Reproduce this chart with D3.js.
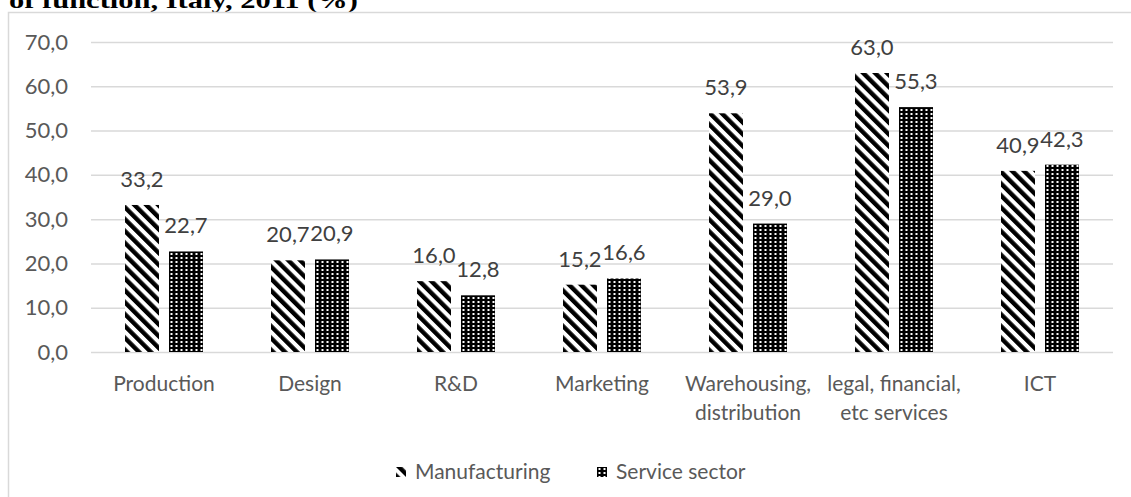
<!DOCTYPE html>
<html>
<head>
<meta charset="utf-8">
<script src="https://cdn.jsdelivr.net/npm/d3@7"></script>
<style>
  html, body { margin: 0; padding: 0; background: #fff; }
  svg { display: block; }
  text { font-family: Lato, "Open Sans", sans-serif; }
</style>
</head>
<body>
<svg id="chart" width="1131" height="497"></svg>
<script>
// Share of firms by business function, Italy, 2011 (%)
const categories = [
  ["Production"],
  ["Design"],
  ["R&D"],
  ["Marketing"],
  ["Warehousing,", "distribution"],
  ["legal, financial,", "etc services"],
  ["ICT"]
];
const seriesNames = ["Manufacturing", "Service sector"];
const manufacturing = [33.2, 20.7, 16.0, 15.2, 53.9, 63.0, 40.9];
const serviceSector = [22.7, 20.9, 12.8, 16.6, 29.0, 55.3, 42.3];
const yTicks = [0, 10, 20, 30, 40, 50, 60, 70];
const titleText = "of function, Italy, 2011 (%)";

const svg = d3.select("#chart");
const W = 1131, H = 497;
const plot = { left: 91, right: 1113, top: 42, bottom: 352 };

const fmt = v => v.toFixed(1).replace(".", ",");
const textGray = "#595959";
const gridGray = "#d9d9d9";
const labelSize = "21px";
const numberSize = "22px";

// Fill patterns: diagonal hatching and dotted grid
const defs = svg.append("defs");
const hatch = defs.append("pattern")
  .attr("id", "hatch")
  .attr("patternUnits", "userSpaceOnUse")
  .attr("width", 8.4).attr("height", 8.4)
  .attr("patternTransform", "rotate(-45)");
hatch.append("rect").attr("width", 8.4).attr("height", 8.4).attr("fill", "#fff");
hatch.append("rect").attr("width", 4.4).attr("height", 8.4).attr("fill", "#000");

const dots = defs.append("pattern")
  .attr("id", "dots")
  .attr("patternUnits", "userSpaceOnUse")
  .attr("width", 5).attr("height", 4);
dots.append("rect").attr("width", 5).attr("height", 4).attr("fill", "#000");
dots.append("rect").attr("x", 1.5).attr("y", 1).attr("width", 2).attr("height", 2).attr("fill", "#fff");

const fills = ["url(#hatch)", "url(#dots)"];

// Title (runs off the top edge)
svg.append("text")
  .attr("x", 9).attr("y", 8)
  .attr("textLength", 349).attr("lengthAdjust", "spacingAndGlyphs")
  .style("font-family", "'Liberation Serif', serif")
  .style("font-weight", "bold")
  .style("font-size", "24px")
  .attr("fill", "#000")
  .text(titleText);

// Chart frame
svg.append("rect")
  .attr("x", 8.5).attr("y", 12.5)
  .attr("width", W + 20).attr("height", H + 20)
  .attr("fill", "#fff")
  .attr("stroke", gridGray).attr("stroke-width", 1.5);

// Scales
const x0 = d3.scaleBand()
  .domain(d3.range(categories.length))
  .range([plot.left, plot.right])
  .paddingInner(0).paddingOuter(0);
const x1 = d3.scaleBand()
  .domain(seriesNames)
  .range([-39, 39])
  .paddingInner(10 / 44).paddingOuter(0);
const y = d3.scaleLinear().domain([0, 70]).range([plot.bottom, plot.top]);

// Gridlines and y tick labels
const yAxis = d3.axisLeft(y)
  .tickValues(yTicks)
  .tickSize(-(plot.right - plot.left))
  .tickPadding(23)
  .tickFormat(fmt);
const gy = svg.append("g")
  .attr("transform", `translate(${plot.left},0)`)
  .call(yAxis);
gy.select(".domain").remove();
gy.selectAll(".tick line").attr("stroke", gridGray).attr("stroke-width", 1.5);
gy.selectAll(".tick text")
  .attr("fill", textGray)
  .style("font-size", numberSize)
  .style("font-family", "Lato, sans-serif");

// Bars
const data = categories.map((c, i) => ({
  i, values: [manufacturing[i], serviceSector[i]]
}));
const groups = svg.append("g").selectAll("g")
  .data(data).join("g")
  .attr("transform", d => `translate(${x0(d.i) + x0.bandwidth() / 2},0)`);

groups.selectAll("rect")
  .data(d => d.values.map((v, k) => ({ v, k })))
  .join("rect")
  .attr("x", d => x1(seriesNames[d.k]))
  .attr("width", x1.bandwidth())
  .attr("y", d => y(d.v))
  .attr("height", d => y(0) - y(d.v))
  .attr("fill", d => fills[d.k]);

// Value labels
groups.selectAll("text.val")
  .data(d => d.values.map((v, k) => ({ v, k })))
  .join("text")
  .attr("class", "val")
  .attr("x", d => x1(seriesNames[d.k]) + x1.bandwidth() / 2)
  .attr("y", d => y(d.v) - 18)
  .attr("text-anchor", "middle")
  .attr("fill", "#404040")
  .style("font-size", numberSize)
  .text(d => fmt(d.v));

// Category labels
const catG = svg.append("g").selectAll("text")
  .data(data).join("text")
  .attr("text-anchor", "middle")
  .attr("fill", textGray)
  .style("font-size", labelSize)
  .attr("x", d => x0(d.i) + x0.bandwidth() / 2)
  .attr("y", 391);
catG.selectAll("tspan")
  .data(d => categories[d.i].map((t, j) => ({ t, j, cx: x0(d.i) + x0.bandwidth() / 2 })))
  .join("tspan")
  .attr("x", d => d.cx)
  .attr("dy", d => d.j === 0 ? 0 : 29)
  .text(d => d.t);

// Legend
const legendItems = [
  { name: seriesNames[0], fill: fills[0], x: 396 },
  { name: seriesNames[1], fill: fills[1], x: 597 }
];
const lg = svg.append("g").selectAll("g")
  .data(legendItems).join("g")
  .attr("transform", d => `translate(${d.x},467)`);
lg.append("rect")
  .attr("width", 10).attr("height", 10)
  .attr("fill", d => d.fill);
lg.append("text")
  .attr("x", 19).attr("y", 12)
  .attr("fill", textGray)
  .style("font-size", labelSize)
  .text(d => d.name);
</script>
</body>
</html>
